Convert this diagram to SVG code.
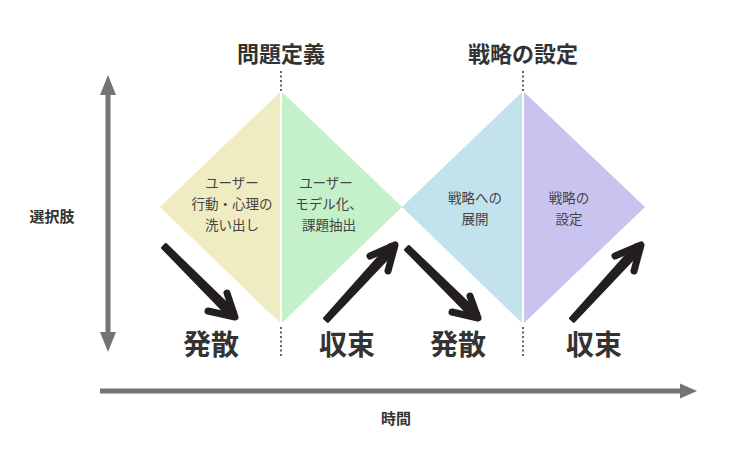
<svg xmlns="http://www.w3.org/2000/svg" width="740" height="450" viewBox="0 0 740 450">
<defs>
<style>
text{font-family:"Noto Sans CJK JP","Noto Sans",sans-serif;text-anchor:middle;fill:#333;}
.title{font-size:22px;font-weight:bold;}
.big{font-size:28px;font-weight:bold;}
.axis{font-size:15px;font-weight:bold;}
.small{font-size:13.5px;fill:#444;}
.dot{stroke:#333;stroke-width:1.5;stroke-dasharray:2 2.5;fill:none;}
.brush{stroke:#231f20;stroke-width:7;stroke-linecap:round;stroke-linejoin:round;fill:none;}
.shaft{fill:#231f20;stroke:#231f20;stroke-width:2.5;stroke-linejoin:round;}
.gray{fill:#767374;}
</style>
</defs>
<rect width="740" height="450" fill="#fff"/>
<g id="axis-vertical">
<rect class="gray" x="105.5" y="92" width="5" height="242"/>
<polygon class="gray" points="108,75 116,95 100,95"/>
<polygon class="gray" points="108,352 116,332 100,332"/>
<text class="axis" x="52" y="222">選択肢</text>
</g>
<g id="axis-horizontal">
<rect class="gray" x="100" y="388.5" width="582" height="5"/>
<polygon class="gray" points="697,391 680,383.5 680,398.5"/>
<text class="axis" x="396" y="424">時間</text>
</g>
<g id="phase-problem">
<text class="title" x="281" y="62">問題定義</text>
<line class="dot" x1="281" y1="71" x2="281" y2="91"/>
<line class="dot" x1="281" y1="327" x2="281" y2="356"/>
</g>
<g id="phase-strategy">
<text class="title" x="523" y="62">戦略の設定</text>
<line class="dot" x1="523" y1="71" x2="523" y2="91"/>
<line class="dot" x1="523" y1="327" x2="523" y2="356"/>
</g>
<g id="node-user-behavior">
<polygon points="160,207 280,92 280,323" fill="#efecc1"/>
<text class="small" x="232" y="188">ユーザー</text>
<text class="small" x="232" y="209">行動・心理の</text>
<text class="small" x="232" y="230">洗い出し</text>
</g>
<g id="node-user-model">
<polygon points="282,92 402,207 282,323" fill="#c4f0ca"/>
<text class="small" x="326" y="188">ユーザー</text>
<text class="small" x="329" y="209">モデル化、</text>
<text class="small" x="329" y="230">課題抽出</text>
</g>
<g id="node-strategy-expand">
<polygon points="402,207 522,92 522,323" fill="#c2e3ee"/>
<text class="small" x="475" y="203">戦略への</text>
<text class="small" x="475" y="224">展開</text>
</g>
<g id="node-strategy-set">
<polygon points="524,92 645,207 524,323" fill="#c9c3f0"/>
<text class="small" x="569" y="203">戦略の</text>
<text class="small" x="569" y="224">設定</text>
</g>
<g id="connectors">
<polygon class="shaft" points="165.8,244.2 235.8,312.2 230.2,317.8 162.2,247.8"/>
<path class="brush" d="M227,293 L235,317 L208,311"/>
<polygon class="shaft" points="327.8,321.7 396,249.7 390,244.3 324.2,318.3"/>
<path class="brush" d="M370,256 L395,245 L388,271"/>
<polygon class="shaft" points="408.8,246.2 478.8,313.2 473.2,318.8 405.2,249.8"/>
<path class="brush" d="M470,296 L478,318 L452,312"/>
<polygon class="shaft" points="573.8,321.7 642,249.7 636,244.3 570.2,318.3"/>
<path class="brush" d="M615,256 L641,245 L634,271"/>
</g>
<g id="labels">
<text class="big" x="211" y="355">発散</text>
<text class="big" x="347" y="355">収束</text>
<text class="big" x="458" y="355">発散</text>
<text class="big" x="594" y="355">収束</text>
</g>
</svg>
